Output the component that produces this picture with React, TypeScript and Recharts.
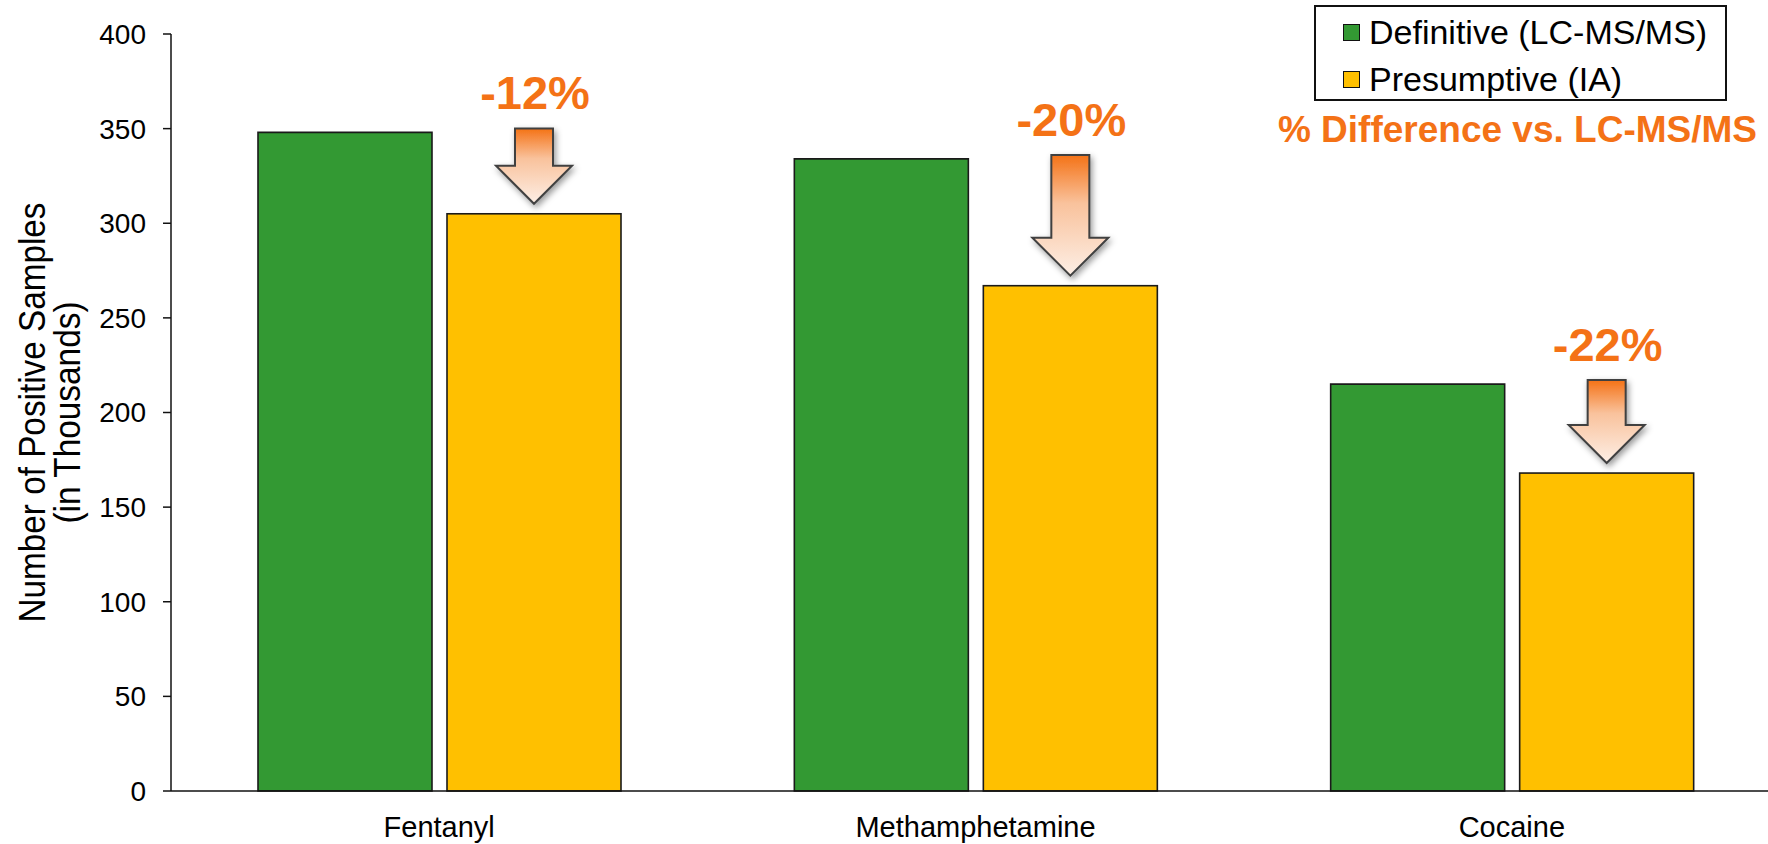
import { BarChart, Bar, XAxis, YAxis } from "recharts";

const categories = ["Fentanyl", "Methamphetamine", "Cocaine"];
const definitive = [348, 334, 215];
const presumptive = [305, 267, 168];
const pctLabels = ["-12%", "-20%", "-22%"];
const yTicks = [0, 50, 100, 150, 200, 250, 300, 350, 400];

const FONT = '"Liberation Sans", Arial, sans-serif';
const ORANGE = "#F47216";
const GREEN = "#339933";
const YELLOW = "#FFC000";

const data = categories.map((name, i) => ({
  name,
  definitive: definitive[i],
  presumptive: presumptive[i],
  pct: pctLabels[i],
}));

// yellow bar + the drop arrow + % label above it
const PresumptiveShape = (props: any) => {
  const { x, y, width, height, payload, fill } = props;
  const scale = height / payload.presumptive;
  const greenY = y + height - payload.definitive * scale;
  const cx = x + width / 2;
  const top = greenY - 4;
  const tip = y - 10;
  const headY = tip - 38;
  const d = `M${cx - 19},${top} L${cx + 19},${top} L${cx + 19},${headY} L${cx + 38},${headY} L${cx},${tip} L${cx - 38},${headY} L${cx - 19},${headY} Z`;
  return (
    <g>
      <rect x={x} y={y} width={width} height={height} fill={fill} stroke="#1a1a1a" strokeWidth={1.6} />
      <path d={d} fill="url(#arrowGrad)" stroke="#404040" strokeWidth={2} filter="url(#arrowShadow)" />
      <text x={cx + 1} y={top - 19} textAnchor="middle" fontFamily={FONT} fontWeight="bold" fontSize={47} fill={ORANGE}>
        {payload.pct}
      </text>
    </g>
  );
};

const YLabel = (props: any) => {
  const vb = props.viewBox || { x: 0, y: 0, width: 0, height: 0 };
  const cy = vb.y + vb.height / 2;
  return (
    <g fontFamily={FONT} fontSize={36} fill="#000">
      <text transform={`translate(45,${cy}) rotate(-90)`} textAnchor="middle" textLength={420} lengthAdjust="spacingAndGlyphs">
        Number of Positive Samples
      </text>
      <text transform={`translate(80,${cy}) rotate(-90)`} textAnchor="middle" textLength={222} lengthAdjust="spacingAndGlyphs">
        (in Thousands)
      </text>
    </g>
  );
};

const legendItems = [
  { label: "Definitive (LC-MS/MS)", color: GREEN, top: 25 },
  { label: "Presumptive (IA)", color: YELLOW, top: 72 },
];

const LegendBox = () => (
  <div
    style={{
      position: "absolute",
      left: 1314,
      top: 5,
      width: 409,
      height: 92,
      border: "2px solid #111",
      fontFamily: FONT,
      fontSize: 34,
      color: "#000",
      background: "#fff",
    }}
  >
    {legendItems.map((it) => (
      <div key={it.label} style={{ position: "absolute", left: 27, top: it.top - 20, height: 40, display: "flex", alignItems: "center", whiteSpace: "nowrap" }}>
        <span style={{ display: "inline-block", width: 15, height: 15, background: it.color, border: "1.5px solid #111", marginRight: 9 }} />
        <span style={{ lineHeight: "40px" }}>{it.label}</span>
      </div>
    ))}
  </div>
);

export default function App() {
  return (
    <div style={{ position: "absolute", left: 0, top: 0, width: 1768, height: 844, overflow: "hidden", background: "#fff" }}>
      <BarChart width={1800} height={844} data={data} margin={{ top: 34, right: 20, bottom: 0, left: 0 }} barSize={174} barGap={15}>
        <defs>
          <linearGradient id="arrowGrad" x1="0" y1="0" x2="0" y2="1">
            <stop offset="0%" stopColor="#F47216" />
            <stop offset="40%" stopColor="#F9C29C" />
            <stop offset="100%" stopColor="#FDEFE6" />
          </linearGradient>
          <filter id="arrowShadow" x="-30%" y="-20%" width="160%" height="150%">
            <feDropShadow dx={2} dy={3} stdDeviation={3} floodColor="#000" floodOpacity={0.4} />
          </filter>
        </defs>
        <XAxis
          dataKey="name"
          height={53}
          tickLine={false}
          tickSize={0}
          tickMargin={25}
          axisLine={{ stroke: "#111", strokeWidth: 1.5 }}
          tick={{ fontFamily: FONT, fontSize: 29, fill: "#000" }}
        />
        <YAxis
          width={171}
          domain={[0, 400]}
          ticks={yTicks}
          interval={0}
          tickSize={8}
          tickMargin={17}
          axisLine={{ stroke: "#111", strokeWidth: 1.5 }}
          tickLine={{ stroke: "#111", strokeWidth: 1.5 }}
          tick={{ fontFamily: FONT, fontSize: 28, fill: "#000" }}
          label={(p: any) => <YLabel {...p} />}
        />
        <Bar dataKey="definitive" name="Definitive (LC-MS/MS)" fill={GREEN} stroke="#1a1a1a" strokeWidth={1.6} isAnimationActive={false} />
        <Bar dataKey="presumptive" name="Presumptive (IA)" fill={YELLOW} shape={<PresumptiveShape />} isAnimationActive={false} />
      </BarChart>
      <LegendBox />
      <svg style={{ position: "absolute", left: 0, top: 0, pointerEvents: "none" }} width={1768} height={844}>
        <text x={1757} y={142} textAnchor="end" fontFamily={FONT} fontWeight="bold" fontSize={37} fill={ORANGE}>
          % Difference vs. LC-MS/MS
        </text>
      </svg>
    </div>
  );
}
